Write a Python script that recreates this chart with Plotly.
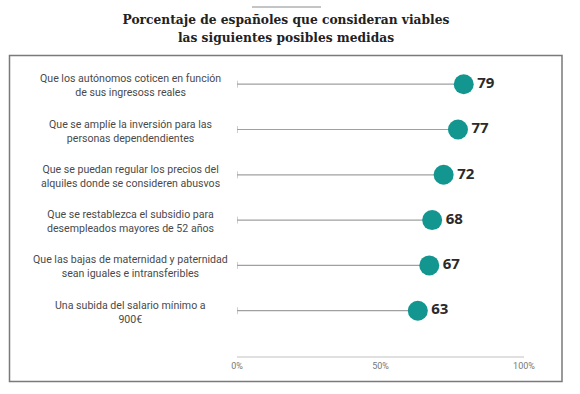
import plotly.graph_objects as go

categories = [
    "Que los autónomos coticen en función<br>de sus ingresoss reales",
    "Que se amplíe la inversión para las<br>personas dependendientes",
    "Que se puedan regular los precios del<br>alquiles donde se consideren abusvos",
    "Que se restablezca el subsidio para<br>desempleados mayores de 52 años",
    "Que las bajas de maternidad y paternidad<br>sean iguales e intransferibles",
    "Una subida del salario mínimo a<br>900€",
]
values = [79, 77, 72, 68, 67, 63]
tick_vals = [0, 50, 100]
tick_text = ["0%", "50%", "100%"]
title_text = "Porcentaje de españoles que consideran viables<br>las siguientes posibles medidas"

n = len(categories)
ypos = [n - i for i in range(n)]

W, H = 580, 394
L, R, T, B = 237, 56, 56, 38
pw, ph = W - L - R, H - T - B
row_px = 45.3
yrange = [0, ph / row_px]

def px_to_paper_x(px):
    return (px - L) / pw

def px_to_paper_y(py):
    return (H - B - py) / ph

teal = "#12968f"
line_gray = "#a0a0a0"

lx, ly = [], []
for v, y in zip(values, ypos):
    lx += [0, v, None]
    ly += [y, y, None]

fig = go.Figure()
fig.add_trace(go.Scatter(x=lx, y=ly, mode="lines",
                         line=dict(color=line_gray, width=1.2),
                         hoverinfo="skip", showlegend=False))
fig.add_trace(go.Scatter(x=[0] * n, y=ypos, mode="markers",
                         marker=dict(symbol="line-ns", size=5,
                                     line=dict(color=line_gray, width=1)),
                         hoverinfo="skip", showlegend=False))
fig.add_trace(go.Scatter(x=values, y=ypos, mode="markers+text",
                         marker=dict(color=teal, size=20),
                         text=[str(v) for v in values],
                         textposition="middle right",
                         textfont=dict(family="Open Sans", size=15, color="#2a2a2a", weight="bold"),
                         showlegend=False))

for cat, y in zip(categories, ypos):
    fig.add_annotation(x=px_to_paper_x(130), xref="paper", y=y, yref="y",
                       text=cat, showarrow=False, xanchor="center", yanchor="middle",
                       align="center", yshift=-1.5,
                       font=dict(family="Roboto", size=10.6, color="#4a4a4a"))

# frame box
fig.add_shape(type="rect", xref="paper", yref="paper",
              x0=px_to_paper_x(9.5), x1=px_to_paper_x(562),
              y0=px_to_paper_y(381.5), y1=px_to_paper_y(55.5),
              line=dict(color="#7a7a7a", width=1.5), fillcolor="rgba(0,0,0,0)")
# small line above title
fig.add_shape(type="line", xref="paper", yref="paper",
              x0=px_to_paper_x(252), x1=px_to_paper_x(321),
              y0=px_to_paper_y(7), y1=px_to_paper_y(7),
              line=dict(color="#8a8a8a", width=1))

fig.update_layout(
    width=W, height=H,
    margin=dict(l=L, r=R, t=T, b=B),
    paper_bgcolor="white", plot_bgcolor="white",
    title=dict(text=title_text, x=286 / W, xanchor="center",
               y=1 - 24 / H, yanchor="middle", xref="container", yref="container",
               font=dict(family="DejaVu Serif Condensed, DejaVu Serif", size=13.6, color="#222", weight="bold"),
               ),
    xaxis=dict(range=[0, 100], tickvals=tick_vals, ticktext=tick_text,
               showgrid=False, zeroline=False, showline=True,
               linecolor="#e0e0e0", linewidth=2, ticks="",
               tickfont=dict(family="Roboto", size=9, color="#777"),
               fixedrange=True),
    yaxis=dict(range=yrange, showticklabels=False, showgrid=False,
               zeroline=False, showline=False, fixedrange=True),
)

fig.write_html("out.html", config={"displayModeBar": False},
               post_script="document.body.style.margin='0';")
